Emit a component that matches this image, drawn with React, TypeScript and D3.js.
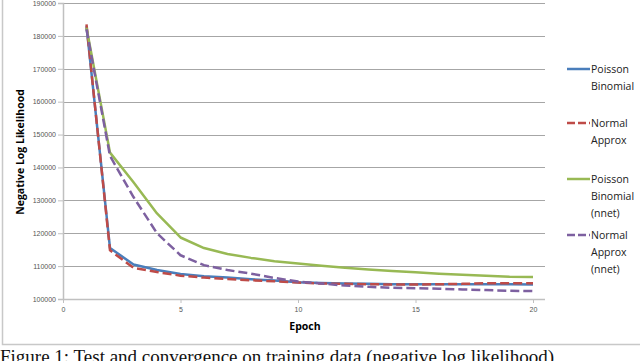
import React, { useRef, useEffect } from "react";
import * as d3 from "d3";

const epochs = [1, 2, 3, 4, 5, 6, 7, 8, 9, 10, 11, 12, 13, 14, 15, 16, 17, 18, 19, 20];

const poissonBinomial = [
    183000, 115500, 110500, 108800, 107600, 106900, 106500, 106000, 105600, 105100,
    104900, 104700, 104600, 104500, 104500, 104500, 104500, 104500, 104500, 104400,
];
const normalApprox = [
    183500, 114800, 109500, 108200, 107100, 106500, 106100, 105700, 105400, 105000,
    104700, 104600, 104500, 104400, 104400, 104500, 104600, 104800, 104800, 104800,
];
const poissonBinomialNnet = [
    182500, 144500, 135500, 126000, 118700, 115500, 113700, 112500, 111500, 110800,
    110100, 109500, 109000, 108500, 108100, 107700, 107400, 107100, 106800, 106700,
];
const normalApproxNnet = [
    182000, 143500, 131000, 120000, 113300, 110300, 108800, 107700, 106400, 105300,
    104700, 104100, 103700, 103400, 103300, 103100, 102900, 102700, 102500, 102400,
];

const yTicks = [100000, 110000, 120000, 130000, 140000, 150000, 160000, 170000, 180000, 190000];
const xTicks = [0, 5, 10, 15, 20];

const series = [
    { name: ["Poisson", "Binomial"], values: poissonBinomial, color: "#4a7ebb", dash: null },
    { name: ["Normal", "Approx"], values: normalApprox, color: "#be4b48", dash: "9,4" },
    { name: ["Poisson", "Binomial", "(nnet)"], values: poissonBinomialNnet, color: "#98b954", dash: null },
    { name: ["Normal", "Approx", "(nnet)"], values: normalApproxNnet, color: "#7d60a0", dash: "9,4" },
];

const legendY = [69, 123, 179, 235];

const Chart = () => {
    const ref = useRef(null);

    useEffect(() => {
        if (!ref.current) return;
        const svg = d3.select(ref.current);
        svg.selectAll("*").remove();

        const x = d3.scaleLinear().domain([0, 20]).range([63, 533]);
        const y = d3.scaleLinear().domain([100000, 190000]).range([299, 3]);
        const right = 545;

        // outer frame
        svg.append("path")
            .attr("d", "M2.5,-5 V344.5 H645")
            .attr("fill", "none")
            .attr("stroke", "#c8c8c8")
            .attr("stroke-width", 1.5);

        // gridlines
        svg.append("g")
            .selectAll("line")
            .data(yTicks.slice(1))
            .join("line")
            .attr("x1", x(0))
            .attr("x2", right)
            .attr("y1", (d) => Math.round(y(d)) + 0.5)
            .attr("y2", (d) => Math.round(y(d)) + 0.5)
            .attr("stroke", "#a6a6a6")
            .attr("stroke-width", 1);

        // y axis
        const yAxis = svg
            .append("g")
            .attr("transform", `translate(${x(0)},0)`)
            .call(d3.axisLeft(y).tickValues(yTicks).tickSize(5).tickPadding(2).tickFormat(d3.format("d")));
        yAxis.select(".domain").attr("stroke", "#c0c0c0").attr("stroke-width", 1.5);
        yAxis.selectAll(".tick line").attr("stroke", "#c0c0c0");
        yAxis.selectAll(".tick text")
            .attr("font-family", "Liberation Sans")
            .attr("font-size", 7)
            .attr("fill", "#555");

        // x axis
        const xAxis = svg
            .append("g")
            .attr("transform", `translate(0,${y(100000)})`)
            .call(d3.axisBottom(x).tickValues(xTicks).tickSize(4).tickPadding(4));
        xAxis.select(".domain").remove();
        svg.append("line")
            .attr("x1", x(0))
            .attr("x2", right)
            .attr("y1", y(100000) + 0.5)
            .attr("y2", y(100000) + 0.5)
            .attr("stroke", "#c0c0c0")
            .attr("stroke-width", 1.5);
        xAxis.selectAll(".tick line").attr("stroke", "#c0c0c0");
        xAxis.selectAll(".tick text")
            .attr("font-family", "Liberation Sans")
            .attr("font-size", 7)
            .attr("fill", "#555");

        // lines
        const line = d3
            .line()
            .x((d, i) => x(epochs[i]))
            .y((d) => y(d));

        series.forEach((s) => {
            svg.append("path")
                .datum(s.values)
                .attr("fill", "none")
                .attr("stroke", s.color)
                .attr("stroke-width", 2.5)
                .attr("stroke-dasharray", s.dash)
                .attr("stroke-linejoin", "round")
                .attr("d", line);
        });

        // axis titles
        svg.append("text")
            .attr("transform", `translate(24,152) rotate(-90)`)
            .attr("text-anchor", "middle")
            .attr("font-family", "Open Sans")
            .attr("font-weight", "bold")
            .attr("font-size", 10.5)
            .text("Negative Log Likelihood");

        svg.append("text")
            .attr("x", 305)
            .attr("y", 330)
            .attr("text-anchor", "middle")
            .attr("font-family", "Open Sans")
            .attr("font-weight", "bold")
            .attr("font-size", 10.5)
            .text("Epoch");

        // legend
        series.forEach((s, i) => {
            const ly = legendY[i];
            svg.append("line")
                .attr("x1", 567)
                .attr("x2", 590)
                .attr("y1", ly)
                .attr("y2", ly)
                .attr("stroke", s.color)
                .attr("stroke-width", 2.5)
                .attr("stroke-dasharray", s.dash ? "8,3" : null);
            const t = svg.append("text")
                .attr("font-family", "Open Sans")
                .attr("font-size", 10.5)
                .attr("fill", "#222");
            s.name.forEach((n, j) => {
                t.append("tspan")
                    .attr("x", 591)
                    .attr("y", ly + 4 + j * 17)
                    .text(n);
            });
        });

        // caption (cut off at bottom of image, as in the source)
        svg.append("text")
            .attr("x", 0)
            .attr("y", 363)
            .attr("font-family", "Liberation Serif")
            .attr("font-size", 19)
            .attr("fill", "#111")
            .text("Figure 1:  Test and convergence on training data (negative log likelihood)");
    }, []);

    return <svg ref={ref} width={640} height={361} style={{ display: "block" }} />;
};

export default function App() {
    return (
        <div style={{ position: "fixed", left: 0, top: 0, width: 640, height: 361, background: "#fff", overflow: "hidden" }}>
            <Chart />
        </div>
    );
}
